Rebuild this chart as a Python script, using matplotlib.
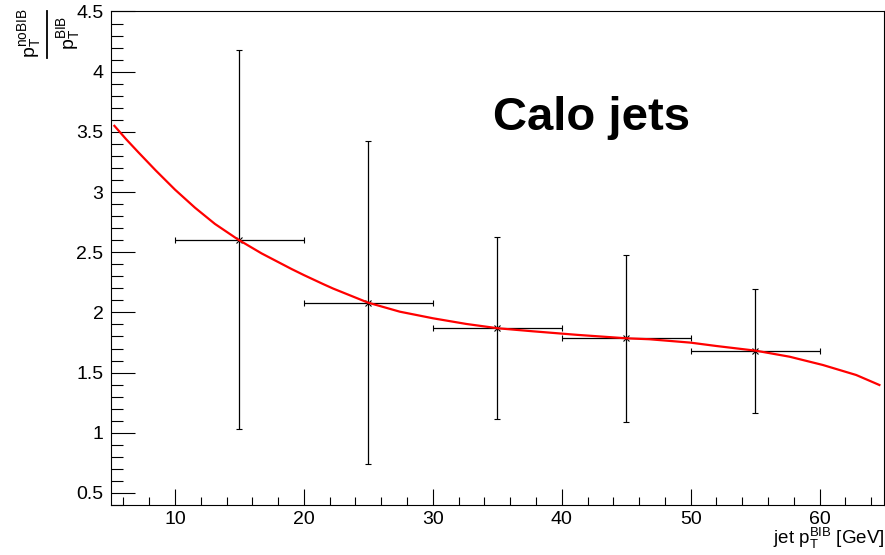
import matplotlib

matplotlib.use("Agg")

import matplotlib.pyplot as plt
from matplotlib.lines import Line2D
from matplotlib.ticker import MultipleLocator

# binned ratio points (bin centres, half-widths, values, errors)
bin_centers = [15, 25, 35, 45, 55]
bin_halfwidths = [5, 5, 5, 5, 5]
ratio = [2.605, 2.081, 1.868, 1.784, 1.681]
ratio_err = [1.571, 1.340, 0.755, 0.697, 0.514]

# smooth fit curve, sampled along pT
fit_pt = [5.3, 6.2, 7.16, 8.5, 10.0, 11.55, 13.1, 14.9, 16.72, 19.05, 20.0, 21.5,
          22.27, 24.98, 27.44, 30.02, 32.6, 35.06, 37.77, 41.26, 45.0, 46.8,
          49.98, 51.99, 55.05, 57.67, 60.26, 62.84, 64.64]
fit_ratio = [3.55, 3.44, 3.33, 3.18, 3.02, 2.87, 2.735, 2.605, 2.49, 2.36, 2.31, 2.235,
             2.198, 2.081, 2.006, 1.951, 1.904, 1.868, 1.843, 1.813, 1.785, 1.777,
             1.749, 1.721, 1.682, 1.632, 1.563, 1.48, 1.397]

plt.rcParams["font.family"] = ["Liberation Sans", "DejaVu Sans"]
plt.rcParams["mathtext.fontset"] = "custom"
plt.rcParams["mathtext.rm"] = "Liberation Sans"
plt.rcParams["mathtext.it"] = "Liberation Sans"
plt.rcParams["mathtext.bf"] = "Liberation Sans:bold"
plt.rcParams["mathtext.default"] = "regular"

W, H = 885, 555
fig = plt.figure(figsize=(W / 100, H / 100), dpi=100)
ax = fig.add_axes([0.1249, 0.0901, 0.874, 0.8892])

ax.errorbar(bin_centers, ratio, xerr=bin_halfwidths, yerr=ratio_err,
            fmt="x", color="black", ecolor="black", elinewidth=0.9,
            capsize=2.5, capthick=0.9, markersize=5, markeredgewidth=0.8, zorder=2)
ax.plot(fit_pt, fit_ratio, color="red", lw=1.6, zorder=3)

ax.xaxis.set_major_locator(MultipleLocator(10))
ax.xaxis.set_minor_locator(MultipleLocator(2))
ax.yaxis.set_major_locator(MultipleLocator(0.5))
ax.yaxis.set_minor_locator(MultipleLocator(0.1))
ax.tick_params(axis="both", which="both", direction="in", top=False, right=False,
               width=0.8, labelsize=14, colors="black")
ax.tick_params(axis="x", which="major", length=11.5, pad=4)
ax.tick_params(axis="x", which="minor", length=5.8)
ax.tick_params(axis="y", which="major", length=17, pad=5)
ax.tick_params(axis="y", which="minor", length=8.6)

ax.set_xticks([10, 20, 30, 40, 50, 60])
ax.set_xticklabels(["10", "20", "30", "40", "50", "60"])
ax.set_yticks([0.5, 1, 1.5, 2, 2.5, 3, 3.5, 4, 4.5])
ax.set_yticklabels(["0.5", "1", "1.5", "2", "2.5", "3", "3.5", "4", "4.5"])
ax.set_xlim(5, 65)
ax.set_ylim(0.4, 4.5)

for spine in ax.spines.values():
    spine.set_linewidth(0.8)

# x-axis title, right-aligned at the bottom edge
fig.text(0.999, 1 - 544 / H, r"jet $p_{T}^{BIB}$ [GeV]", ha="right", va="baseline",
         fontsize=13.5)

# y-axis title as a rotated fraction: numerator, bar, denominator
fig.text(30 / W, 1 - 33 / H, r"$p_{T}^{noBIB}$", rotation=90,
         ha="center", va="center", fontsize=14)
fig.text(69 / W, 1 - 33 / H, r"$p_{T}^{BIB}$", rotation=90,
         ha="center", va="center", fontsize=14)
fig.add_artist(Line2D([47 / W, 47 / W], [1 - 11 / H, 1 - 58 / H],
                      transform=fig.transFigure, color="black", lw=1.3))

ax.text(0.6225, 0.76, "Calo jets", transform=ax.transAxes, ha="center",
        va="baseline", fontsize=34, fontweight="bold")

fig.savefig("out.png", dpi=100)
